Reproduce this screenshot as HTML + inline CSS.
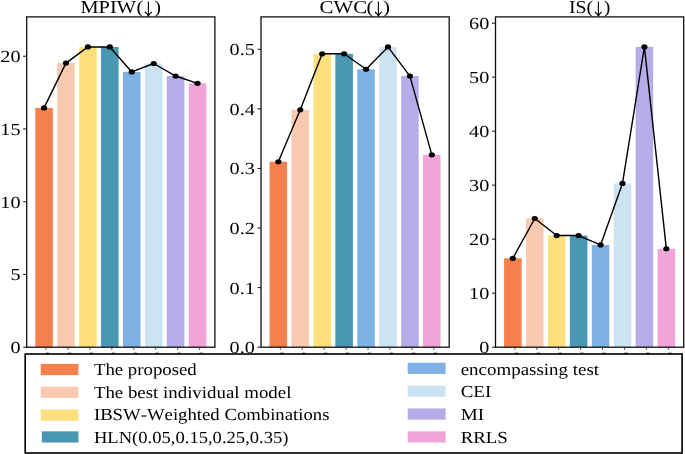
<!DOCTYPE html><html><head><meta charset="utf-8"><style>html,body{margin:0;padding:0;background:#fff;overflow:hidden}svg{display:block;will-change:transform}text{font-family:"Liberation Serif",serif;text-rendering:geometricPrecision;font-kerning:none;font-feature-settings:"kern" 0,"liga" 0}</style></head><body>
<svg width="685" height="454" viewBox="0 0 685 454"><defs><filter id="b" x="0" y="0" width="1" height="1"><feGaussianBlur stdDeviation="0.3"/></filter></defs><g filter="url(#b)">
<rect width="685" height="454" fill="#fff"/>
<rect x="35.26" y="107.88" width="17.55" height="239.32" fill="#F5804E"/>
<rect x="57.19" y="63.08" width="17.55" height="284.12" fill="#F9C9B1"/>
<rect x="79.11" y="46.93" width="17.55" height="300.27" fill="#FDE07B"/>
<rect x="101.04" y="46.93" width="17.55" height="300.27" fill="#4A97B3"/>
<rect x="122.97" y="71.95" width="17.55" height="275.25" fill="#7EB2E4"/>
<rect x="144.91" y="63.51" width="17.55" height="283.69" fill="#CCE4F1"/>
<rect x="166.83" y="76.02" width="17.55" height="271.18" fill="#B5ACE8"/>
<rect x="188.76" y="83.30" width="17.55" height="263.90" fill="#F2A4D8"/>
<polyline points="44.03,107.88 65.96,63.08 87.89,46.93 109.82,46.93 131.75,71.95 153.68,63.51 175.61,76.02 197.54,83.30" fill="none" stroke="#000" stroke-width="1.4" stroke-linejoin="round"/>
<ellipse cx="44.03" cy="107.88" rx="3.1" ry="2.6" fill="#000"/>
<ellipse cx="65.96" cy="63.08" rx="3.1" ry="2.6" fill="#000"/>
<ellipse cx="87.89" cy="46.93" rx="3.1" ry="2.6" fill="#000"/>
<ellipse cx="109.82" cy="46.93" rx="3.1" ry="2.6" fill="#000"/>
<ellipse cx="131.75" cy="71.95" rx="3.1" ry="2.6" fill="#000"/>
<ellipse cx="153.68" cy="63.51" rx="3.1" ry="2.6" fill="#000"/>
<ellipse cx="175.61" cy="76.02" rx="3.1" ry="2.6" fill="#000"/>
<ellipse cx="197.54" cy="83.30" rx="3.1" ry="2.6" fill="#000"/>
<rect x="26.70" y="16.90" width="188.20" height="330.30" fill="none" stroke="#111" stroke-width="1.3"/>
<line x1="23.20" y1="347.20" x2="26.70" y2="347.20" stroke="#111" stroke-width="1"/>
<text x="0" y="0" font-size="16.9" text-anchor="end" fill="#000" transform="translate(20.50,353.10) scale(1.1953,1)">0</text>
<line x1="23.20" y1="274.46" x2="26.70" y2="274.46" stroke="#111" stroke-width="1"/>
<text x="0" y="0" font-size="16.9" text-anchor="end" fill="#000" transform="translate(20.50,280.36) scale(1.1953,1)">5</text>
<line x1="23.20" y1="201.72" x2="26.70" y2="201.72" stroke="#111" stroke-width="1"/>
<text x="0" y="0" font-size="16.9" text-anchor="end" fill="#000" transform="translate(20.50,207.62) scale(1.1953,1)">10</text>
<line x1="23.20" y1="128.98" x2="26.70" y2="128.98" stroke="#111" stroke-width="1"/>
<text x="0" y="0" font-size="16.9" text-anchor="end" fill="#000" transform="translate(20.50,134.88) scale(1.1953,1)">15</text>
<line x1="23.20" y1="56.24" x2="26.70" y2="56.24" stroke="#111" stroke-width="1"/>
<text x="0" y="0" font-size="16.9" text-anchor="end" fill="#000" transform="translate(20.50,62.14) scale(1.1953,1)">20</text>
<line x1="46.03" y1="347.20" x2="46.03" y2="349.70" stroke="#333" stroke-width="0.9"/>
<ellipse cx="47.53" cy="353.2" rx="2.2" ry="0.7" fill="#555"/>
<line x1="67.96" y1="347.20" x2="67.96" y2="349.70" stroke="#333" stroke-width="0.9"/>
<ellipse cx="69.46" cy="353.2" rx="2.2" ry="0.7" fill="#555"/>
<line x1="89.89" y1="347.20" x2="89.89" y2="349.70" stroke="#333" stroke-width="0.9"/>
<ellipse cx="91.39" cy="353.2" rx="2.2" ry="0.7" fill="#555"/>
<line x1="111.82" y1="347.20" x2="111.82" y2="349.70" stroke="#333" stroke-width="0.9"/>
<ellipse cx="113.32" cy="353.2" rx="2.2" ry="0.7" fill="#555"/>
<line x1="133.75" y1="347.20" x2="133.75" y2="349.70" stroke="#333" stroke-width="0.9"/>
<ellipse cx="135.25" cy="353.2" rx="2.2" ry="0.7" fill="#555"/>
<line x1="155.68" y1="347.20" x2="155.68" y2="349.70" stroke="#333" stroke-width="0.9"/>
<ellipse cx="157.18" cy="353.2" rx="2.2" ry="0.7" fill="#555"/>
<line x1="177.61" y1="347.20" x2="177.61" y2="349.70" stroke="#333" stroke-width="0.9"/>
<ellipse cx="179.11" cy="353.2" rx="2.2" ry="0.7" fill="#555"/>
<line x1="199.54" y1="347.20" x2="199.54" y2="349.70" stroke="#333" stroke-width="0.9"/>
<ellipse cx="201.04" cy="353.2" rx="2.2" ry="0.7" fill="#555"/>
<text x="0" y="0" font-size="18.2" text-anchor="start" fill="#000" transform="translate(80.51,12.50) scale(1.1187,1)">MPIW</text>
<text x="0" y="0" font-size="18.2" text-anchor="start" fill="#000" transform="translate(136.51,12.50) scale(1.1187,1)">(</text>
<text x="0" y="0" font-size="18.2" text-anchor="start" fill="#000" transform="translate(154.34,12.50) scale(1.1187,1)">)</text>
<path d="M148.40,1.6 V15.6" stroke="#000" stroke-width="1.1" fill="none"/>
<path d="M144.90,12.0 Q147.20,13.4 148.40,15.9 Q149.60,13.4 151.90,12.0" stroke="#000" stroke-width="1.1" fill="none"/>
<rect x="269.56" y="161.76" width="17.55" height="185.44" fill="#F5804E"/>
<rect x="291.49" y="109.79" width="17.55" height="237.41" fill="#F9C9B1"/>
<rect x="313.42" y="53.78" width="17.55" height="293.42" fill="#FDE07B"/>
<rect x="335.35" y="53.78" width="17.55" height="293.42" fill="#4A97B3"/>
<rect x="357.27" y="69.27" width="17.55" height="277.93" fill="#7EB2E4"/>
<rect x="379.21" y="46.93" width="17.55" height="300.27" fill="#CCE4F1"/>
<rect x="401.13" y="76.07" width="17.55" height="271.13" fill="#B5ACE8"/>
<rect x="423.06" y="154.84" width="17.55" height="192.36" fill="#F2A4D8"/>
<polyline points="278.33,161.76 300.26,109.79 322.19,53.78 344.12,53.78 366.05,69.27 387.98,46.93 409.91,76.07 431.84,154.84" fill="none" stroke="#000" stroke-width="1.4" stroke-linejoin="round"/>
<ellipse cx="278.33" cy="161.76" rx="3.1" ry="2.6" fill="#000"/>
<ellipse cx="300.26" cy="109.79" rx="3.1" ry="2.6" fill="#000"/>
<ellipse cx="322.19" cy="53.78" rx="3.1" ry="2.6" fill="#000"/>
<ellipse cx="344.12" cy="53.78" rx="3.1" ry="2.6" fill="#000"/>
<ellipse cx="366.05" cy="69.27" rx="3.1" ry="2.6" fill="#000"/>
<ellipse cx="387.98" cy="46.93" rx="3.1" ry="2.6" fill="#000"/>
<ellipse cx="409.91" cy="76.07" rx="3.1" ry="2.6" fill="#000"/>
<ellipse cx="431.84" cy="154.84" rx="3.1" ry="2.6" fill="#000"/>
<rect x="261.00" y="16.90" width="188.20" height="330.30" fill="none" stroke="#111" stroke-width="1.3"/>
<line x1="257.50" y1="347.20" x2="261.00" y2="347.20" stroke="#111" stroke-width="1"/>
<text x="0" y="0" font-size="16.9" text-anchor="end" fill="#000" transform="translate(254.80,353.10) scale(1.1953,1)">0.0</text>
<line x1="257.50" y1="287.61" x2="261.00" y2="287.61" stroke="#111" stroke-width="1"/>
<text x="0" y="0" font-size="16.9" text-anchor="end" fill="#000" transform="translate(254.80,293.51) scale(1.1953,1)">0.1</text>
<line x1="257.50" y1="228.02" x2="261.00" y2="228.02" stroke="#111" stroke-width="1"/>
<text x="0" y="0" font-size="16.9" text-anchor="end" fill="#000" transform="translate(254.80,233.92) scale(1.1953,1)">0.2</text>
<line x1="257.50" y1="168.43" x2="261.00" y2="168.43" stroke="#111" stroke-width="1"/>
<text x="0" y="0" font-size="16.9" text-anchor="end" fill="#000" transform="translate(254.80,174.33) scale(1.1953,1)">0.3</text>
<line x1="257.50" y1="108.84" x2="261.00" y2="108.84" stroke="#111" stroke-width="1"/>
<text x="0" y="0" font-size="16.9" text-anchor="end" fill="#000" transform="translate(254.80,114.74) scale(1.1953,1)">0.4</text>
<line x1="257.50" y1="49.25" x2="261.00" y2="49.25" stroke="#111" stroke-width="1"/>
<text x="0" y="0" font-size="16.9" text-anchor="end" fill="#000" transform="translate(254.80,55.15) scale(1.1953,1)">0.5</text>
<line x1="280.33" y1="347.20" x2="280.33" y2="349.70" stroke="#333" stroke-width="0.9"/>
<ellipse cx="281.83" cy="353.2" rx="2.2" ry="0.7" fill="#555"/>
<line x1="302.26" y1="347.20" x2="302.26" y2="349.70" stroke="#333" stroke-width="0.9"/>
<ellipse cx="303.76" cy="353.2" rx="2.2" ry="0.7" fill="#555"/>
<line x1="324.19" y1="347.20" x2="324.19" y2="349.70" stroke="#333" stroke-width="0.9"/>
<ellipse cx="325.69" cy="353.2" rx="2.2" ry="0.7" fill="#555"/>
<line x1="346.12" y1="347.20" x2="346.12" y2="349.70" stroke="#333" stroke-width="0.9"/>
<ellipse cx="347.62" cy="353.2" rx="2.2" ry="0.7" fill="#555"/>
<line x1="368.05" y1="347.20" x2="368.05" y2="349.70" stroke="#333" stroke-width="0.9"/>
<ellipse cx="369.55" cy="353.2" rx="2.2" ry="0.7" fill="#555"/>
<line x1="389.98" y1="347.20" x2="389.98" y2="349.70" stroke="#333" stroke-width="0.9"/>
<ellipse cx="391.48" cy="353.2" rx="2.2" ry="0.7" fill="#555"/>
<line x1="411.91" y1="347.20" x2="411.91" y2="349.70" stroke="#333" stroke-width="0.9"/>
<ellipse cx="413.41" cy="353.2" rx="2.2" ry="0.7" fill="#555"/>
<line x1="433.84" y1="347.20" x2="433.84" y2="349.70" stroke="#333" stroke-width="0.9"/>
<ellipse cx="435.34" cy="353.2" rx="2.2" ry="0.7" fill="#555"/>
<text x="0" y="0" font-size="18.2" text-anchor="start" fill="#000" transform="translate(319.54,12.50) scale(1.1484,1)">CWC</text>
<text x="0" y="0" font-size="18.2" text-anchor="start" fill="#000" transform="translate(366.58,12.50) scale(1.1484,1)">(</text>
<text x="0" y="0" font-size="18.2" text-anchor="start" fill="#000" transform="translate(383.03,12.50) scale(1.1484,1)">)</text>
<path d="M378.40,1.6 V15.6" stroke="#000" stroke-width="1.1" fill="none"/>
<path d="M374.90,12.0 Q377.20,13.4 378.40,15.9 Q379.60,13.4 381.90,12.0" stroke="#000" stroke-width="1.1" fill="none"/>
<rect x="504.06" y="258.31" width="17.55" height="88.89" fill="#F5804E"/>
<rect x="525.99" y="218.50" width="17.55" height="128.70" fill="#F9C9B1"/>
<rect x="547.92" y="235.57" width="17.55" height="111.63" fill="#FDE07B"/>
<rect x="569.85" y="235.57" width="17.55" height="111.63" fill="#4A97B3"/>
<rect x="591.78" y="244.91" width="17.55" height="102.29" fill="#7EB2E4"/>
<rect x="613.71" y="183.40" width="17.55" height="163.80" fill="#CCE4F1"/>
<rect x="635.64" y="46.93" width="17.55" height="300.27" fill="#B5ACE8"/>
<rect x="657.57" y="248.80" width="17.55" height="98.40" fill="#F2A4D8"/>
<polyline points="512.83,258.31 534.76,218.50 556.69,235.57 578.62,235.57 600.55,244.91 622.48,183.40 644.41,46.93 666.34,248.80" fill="none" stroke="#000" stroke-width="1.4" stroke-linejoin="round"/>
<ellipse cx="512.83" cy="258.31" rx="3.1" ry="2.6" fill="#000"/>
<ellipse cx="534.76" cy="218.50" rx="3.1" ry="2.6" fill="#000"/>
<ellipse cx="556.69" cy="235.57" rx="3.1" ry="2.6" fill="#000"/>
<ellipse cx="578.62" cy="235.57" rx="3.1" ry="2.6" fill="#000"/>
<ellipse cx="600.55" cy="244.91" rx="3.1" ry="2.6" fill="#000"/>
<ellipse cx="622.48" cy="183.40" rx="3.1" ry="2.6" fill="#000"/>
<ellipse cx="644.41" cy="46.93" rx="3.1" ry="2.6" fill="#000"/>
<ellipse cx="666.34" cy="248.80" rx="3.1" ry="2.6" fill="#000"/>
<rect x="495.50" y="16.90" width="188.20" height="330.30" fill="none" stroke="#111" stroke-width="1.3"/>
<line x1="492.00" y1="347.20" x2="495.50" y2="347.20" stroke="#111" stroke-width="1"/>
<text x="0" y="0" font-size="16.9" text-anchor="end" fill="#000" transform="translate(489.30,353.10) scale(1.1953,1)">0</text>
<line x1="492.00" y1="293.19" x2="495.50" y2="293.19" stroke="#111" stroke-width="1"/>
<text x="0" y="0" font-size="16.9" text-anchor="end" fill="#000" transform="translate(489.30,299.09) scale(1.1953,1)">10</text>
<line x1="492.00" y1="239.19" x2="495.50" y2="239.19" stroke="#111" stroke-width="1"/>
<text x="0" y="0" font-size="16.9" text-anchor="end" fill="#000" transform="translate(489.30,245.09) scale(1.1953,1)">20</text>
<line x1="492.00" y1="185.18" x2="495.50" y2="185.18" stroke="#111" stroke-width="1"/>
<text x="0" y="0" font-size="16.9" text-anchor="end" fill="#000" transform="translate(489.30,191.08) scale(1.1953,1)">30</text>
<line x1="492.00" y1="131.18" x2="495.50" y2="131.18" stroke="#111" stroke-width="1"/>
<text x="0" y="0" font-size="16.9" text-anchor="end" fill="#000" transform="translate(489.30,137.08) scale(1.1953,1)">40</text>
<line x1="492.00" y1="77.17" x2="495.50" y2="77.17" stroke="#111" stroke-width="1"/>
<text x="0" y="0" font-size="16.9" text-anchor="end" fill="#000" transform="translate(489.30,83.07) scale(1.1953,1)">50</text>
<line x1="492.00" y1="23.16" x2="495.50" y2="23.16" stroke="#111" stroke-width="1"/>
<text x="0" y="0" font-size="16.9" text-anchor="end" fill="#000" transform="translate(489.30,29.06) scale(1.1953,1)">60</text>
<line x1="514.83" y1="347.20" x2="514.83" y2="349.70" stroke="#333" stroke-width="0.9"/>
<ellipse cx="516.33" cy="353.2" rx="2.2" ry="0.7" fill="#555"/>
<line x1="536.76" y1="347.20" x2="536.76" y2="349.70" stroke="#333" stroke-width="0.9"/>
<ellipse cx="538.26" cy="353.2" rx="2.2" ry="0.7" fill="#555"/>
<line x1="558.69" y1="347.20" x2="558.69" y2="349.70" stroke="#333" stroke-width="0.9"/>
<ellipse cx="560.19" cy="353.2" rx="2.2" ry="0.7" fill="#555"/>
<line x1="580.62" y1="347.20" x2="580.62" y2="349.70" stroke="#333" stroke-width="0.9"/>
<ellipse cx="582.12" cy="353.2" rx="2.2" ry="0.7" fill="#555"/>
<line x1="602.55" y1="347.20" x2="602.55" y2="349.70" stroke="#333" stroke-width="0.9"/>
<ellipse cx="604.05" cy="353.2" rx="2.2" ry="0.7" fill="#555"/>
<line x1="624.48" y1="347.20" x2="624.48" y2="349.70" stroke="#333" stroke-width="0.9"/>
<ellipse cx="625.98" cy="353.2" rx="2.2" ry="0.7" fill="#555"/>
<line x1="646.41" y1="347.20" x2="646.41" y2="349.70" stroke="#333" stroke-width="0.9"/>
<ellipse cx="647.91" cy="353.2" rx="2.2" ry="0.7" fill="#555"/>
<line x1="668.34" y1="347.20" x2="668.34" y2="349.70" stroke="#333" stroke-width="0.9"/>
<ellipse cx="669.84" cy="353.2" rx="2.2" ry="0.7" fill="#555"/>
<text x="0" y="0" font-size="18.2" text-anchor="start" fill="#000" transform="translate(568.88,12.50) scale(1.0905,1)">IS</text>
<text x="0" y="0" font-size="18.2" text-anchor="start" fill="#000" transform="translate(586.53,12.50) scale(1.0905,1)">(</text>
<text x="0" y="0" font-size="18.2" text-anchor="start" fill="#000" transform="translate(603.86,12.50) scale(1.0905,1)">)</text>
<path d="M598.40,1.6 V15.6" stroke="#000" stroke-width="1.1" fill="none"/>
<path d="M594.90,12.0 Q597.20,13.4 598.40,15.9 Q599.60,13.4 601.90,12.0" stroke="#000" stroke-width="1.1" fill="none"/>
<rect x="25.2" y="354" width="656.9" height="99" fill="#fff" stroke="#000" stroke-width="1.6"/>
<rect x="40.75" y="363.90" width="37.70" height="11.2" fill="#F5804E"/>
<text x="0" y="0" font-size="16.9" text-anchor="start" fill="#000" transform="translate(93.90,375.45) scale(1.1133,1)">The proposed</text>
<rect x="40.75" y="386.73" width="37.70" height="11.2" fill="#F9C9B1"/>
<text x="0" y="0" font-size="16.9" text-anchor="start" fill="#000" transform="translate(93.90,397.85) scale(1.1166,1)">The best individual model</text>
<rect x="40.75" y="409.53" width="37.70" height="11.2" fill="#FDE07B"/>
<text x="0" y="0" font-size="16.9" text-anchor="start" fill="#000" transform="translate(93.90,420.25) scale(1.1084,1)">IBSW-Weighted Combinations</text>
<rect x="41.8" y="431.34" width="36.65" height="11.2" fill="#4A97B3"/>
<text x="0" y="0" font-size="16.9" text-anchor="start" fill="#000" transform="translate(93.90,442.65) scale(1.1003,1)">HLN(0.05,0.15,0.25,0.35)</text>
<rect x="407.65" y="362.74" width="37.95" height="11.2" fill="#7EB2E4"/>
<text x="0" y="0" font-size="16.9" text-anchor="start" fill="#000" transform="translate(460.70,374.64) scale(1.1213,1)">encompassing test</text>
<rect x="407.65" y="385.59" width="37.95" height="11.2" fill="#CCE4F1"/>
<text x="0" y="0" font-size="16.9" text-anchor="start" fill="#000" transform="translate(460.70,397.49) scale(1.1228,1)">CEI</text>
<rect x="407.65" y="408.44" width="37.95" height="11.2" fill="#B5ACE8"/>
<text x="0" y="0" font-size="16.9" text-anchor="start" fill="#000" transform="translate(460.70,420.34) scale(1.1316,1)">MI</text>
<rect x="407.65" y="431.30" width="37.95" height="11.2" fill="#F2A4D8"/>
<text x="0" y="0" font-size="16.9" text-anchor="start" fill="#000" transform="translate(460.70,443.20) scale(1.1160,1)">RRLS</text>
</g></svg></body></html>
